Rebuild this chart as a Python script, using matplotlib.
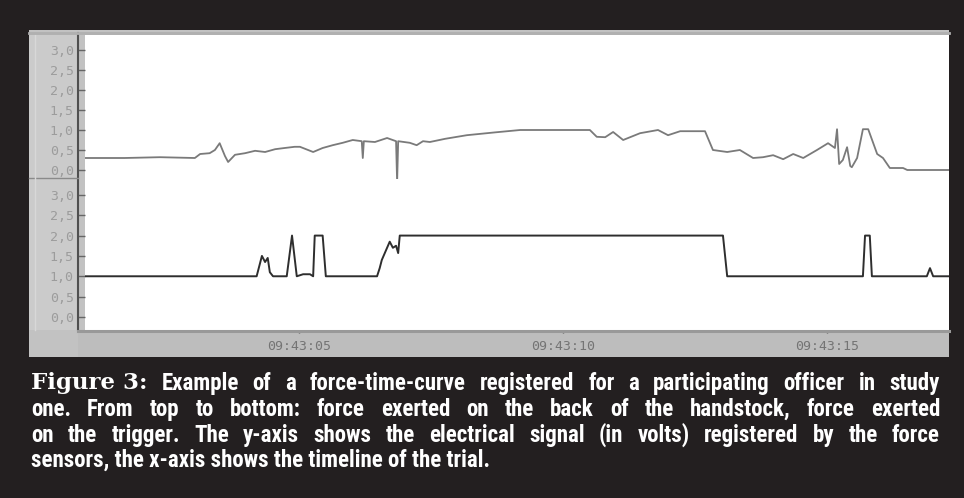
import numpy as np
import matplotlib.pyplot as plt
from matplotlib.patches import Rectangle
from matplotlib.lines import Line2D

# Zeit in Sekunden nach 09:43:00, Werte in Volt
t_griff = [0.95, 1.70, 2.37, 3.03, 3.13, 3.31, 3.41, 3.50, 3.60, 3.66,
           3.79, 3.98, 4.17, 4.36, 4.55, 4.73, 4.92, 5.02, 5.27, 5.45,
           5.64, 5.83, 6.02, 6.19, 6.21, 6.23, 6.44, 6.67, 6.84, 6.86,
           6.88, 7.10, 7.23, 7.35, 7.48, 7.77, 8.18, 8.71, 9.19, 10.51,
           10.64, 10.80, 10.95, 11.14, 11.46, 11.80, 11.99, 12.22, 12.69, 12.84,
           13.11, 13.35, 13.60, 13.79, 13.98, 14.17, 14.36, 14.55, 14.81, 15.02,
           15.15, 15.19, 15.23, 15.30, 15.38, 15.44, 15.47, 15.57, 15.68, 15.78,
           15.95, 16.06, 16.19, 16.44, 16.52, 17.31]
v_griff = [0.3, 0.3, 0.32, 0.3, 0.4, 0.42, 0.5, 0.67, 0.35, 0.2,
           0.38, 0.42, 0.48, 0.45, 0.52, 0.55, 0.58, 0.58, 0.45, 0.55,
           0.62, 0.68, 0.75, 0.72, 0.3, 0.72, 0.7, 0.8, 0.72, -0.3,
           0.72, 0.68, 0.62, 0.72, 0.7, 0.78, 0.87, 0.94, 1.0, 1.0,
           0.83, 0.82, 0.95, 0.75, 0.92, 1.0, 0.87, 0.97, 0.97, 0.5,
           0.45, 0.5, 0.3, 0.32, 0.37, 0.27, 0.4, 0.3, 0.5, 0.67,
           0.55, 1.02, 0.15, 0.25, 0.57, 0.1, 0.07, 0.3, 1.02, 1.02,
           0.4, 0.3, 0.05, 0.05, 0.0, 0.0]

t_abzug = [0.95, 4.20, 4.26, 4.30, 4.36, 4.41, 4.45, 4.51, 4.77, 4.87,
           4.96, 5.08, 5.21, 5.27, 5.30, 5.45, 5.51, 6.48, 6.53, 6.57,
           6.67, 6.72, 6.78, 6.84, 6.88, 6.91, 13.03, 13.11, 15.68, 15.72,
           15.81, 15.85, 16.89, 16.95, 17.01, 17.31]
v_abzug = [1.0, 1.0, 1.3, 1.5, 1.35, 1.45, 1.1, 1.0, 1.0, 2.0,
           1.0, 1.05, 1.05, 1.0, 2.0, 2.0, 1.0, 1.0, 1.2, 1.4,
           1.7, 1.85, 1.7, 1.75, 1.57, 2.0, 2.0, 1.0, 1.0, 2.0,
           2.0, 1.0, 1.0, 1.2, 1.0, 1.0]

y_ticks = [0.0, 0.5, 1.0, 1.5, 2.0, 2.5, 3.0]
x_ticks = [5, 10, 15]
x_labels = ['09:43:05', '09:43:10', '09:43:15']

caption_head = 'Figure 3:'
caption_lines = [
    'Example of a force-time-curve registered for a participating officer in study',
    'one. From top to bottom: force exerted on the back of the handstock, force exerted',
    'on the trigger. The y-axis shows the electrical signal (in volts) registered by the force',
    'sensors, the x-axis shows the timeline of the trial.',
]

W, H = 964, 498


def fx(x):
    return x / W


def fy(y):
    return 1 - y / H


fig = plt.figure(figsize=(W / 100, H / 100), dpi=100, facecolor='#231f20')

# graue Fläche des Messprogramms (hinter den Achsen)
fig.patches.append(Rectangle((fx(29), fy(357)), (949 - 29) / W, (357 - 30) / H,
                             transform=fig.transFigure, facecolor='#c2c2c2',
                             edgecolor='none', zorder=-5))
fig.patches.append(Rectangle((fx(29), fy(330)), (78 - 29) / W, (330 - 35) / H,
                             transform=fig.transFigure, facecolor='#cbcbcb',
                             edgecolor='none', zorder=-4))
fig.patches.append(Rectangle((fx(78), fy(357)), (949 - 78) / W, (357 - 331) / H,
                             transform=fig.transFigure, facecolor='#bdbdbd',
                             edgecolor='none', zorder=-4))

ax_top = fig.add_axes([fx(85), fy(179), (949 - 85) / W, (179 - 35) / H], facecolor='white')
ax_bot = fig.add_axes([fx(85), fy(330), (949 - 85) / W, (330 - 179) / H], facecolor='white',
                      sharex=ax_top)

ax_top.plot(t_griff, v_griff, color='#7a7a7a', lw=1.3)
ax_bot.plot(t_abzug, v_abzug, color='#2e2e2e', lw=1.4)

ax_top.set_xlim(0.95, 17.31)
ax_top.set_ylim(-0.225, 3.375)
ax_bot.set_ylim(-0.32, 3.39)

for ax in (ax_top, ax_bot):
    for s in ax.spines.values():
        s.set_visible(False)
    ax.set_yticks(y_ticks)
    ax.set_yticklabels([f'{v:.1f}'.replace('.', ',') for v in y_ticks],
                       family='DejaVu Sans Mono')
    ax.tick_params(axis='y', direction='out', length=5, width=1, color='#666666',
                   pad=3, labelsize=9.5, labelcolor='#9c9c9c')

ax_top.tick_params(axis='x', bottom=False, labelbottom=False)
ax_bot.set_xticks(x_ticks)
ax_bot.set_xticklabels(x_labels, family='DejaVu Sans Mono')
ax_bot.tick_params(axis='x', direction='out', length=2, width=1, color='#555555',
                   pad=5, labelsize=9.5, labelcolor='#747474')

# Achsenlinie, Trennlinie links, Leiste unten
fig.lines.append(Line2D([fx(78), fx(78)], [fy(33), fy(330)], transform=fig.transFigure,
                        color='#505050', lw=1.5))
fig.lines.append(Line2D([fx(29), fx(78)], [fy(178.5), fy(178.5)], transform=fig.transFigure,
                        color='#8a8a8a', lw=1))
fig.lines.append(Line2D([fx(35), fx(35)], [fy(35), fy(330)], transform=fig.transFigure,
                        color='#d8d8d8', lw=1))
fig.lines.append(Line2D([fx(78), fx(949)], [fy(331.5), fy(331.5)], transform=fig.transFigure,
                        color='#999999', lw=2.2))
fig.lines.append(Line2D([fx(29), fx(949)], [fy(33), fy(33)], transform=fig.transFigure,
                        color='#b0b0b0', lw=2))

# Bildunterschrift, Blocksatz
fig.canvas.draw()
renderer = fig.canvas.get_renderer()

cap_left, cap_right = 31, 940
cap_y = [383, 409, 435, 460]
sans = dict(family=['Roboto Condensed', 'Liberation Sans Narrow', 'DejaVu Sans'],
            stretch='condensed', weight='bold', color='white')
slab = dict(family='DejaVu Serif', weight='heavy', color='white')


def breite(t):
    return t.get_window_extent(renderer).width


fs = 16.5
test_w = []
for i, line in enumerate(caption_lines[:3]):
    t = fig.text(0, 0, line, fontsize=fs, **sans)
    w = breite(t)
    if i == 0:
        h = fig.text(0, 0, caption_head + ' ', fontsize=fs, **slab)
        w += breite(h)
        h.remove()
    t.remove()
    test_w.append(w)
target = cap_right - cap_left
if max(test_w) > 0.985 * target:
    fs = fs * 0.985 * target / max(test_w)

for i, line in enumerate(caption_lines):
    y = fy(cap_y[i])
    if i == 3:
        fig.text(fx(cap_left), y, line, fontsize=fs, va='center', **sans)
        continue
    words = []
    if i == 0:
        words.append(fig.text(0, y, caption_head, fontsize=fs, va='center', **slab))
    for wd in line.split():
        words.append(fig.text(0, y, wd, fontsize=fs, va='center', **sans))
    ws = [breite(t) for t in words]
    gap = (target - sum(ws)) / (len(words) - 1)
    x = cap_left
    for t, w in zip(words, ws):
        t.set_x(fx(x))
        x += w + gap

fig.savefig('out.png', dpi=100, facecolor=fig.get_facecolor())
